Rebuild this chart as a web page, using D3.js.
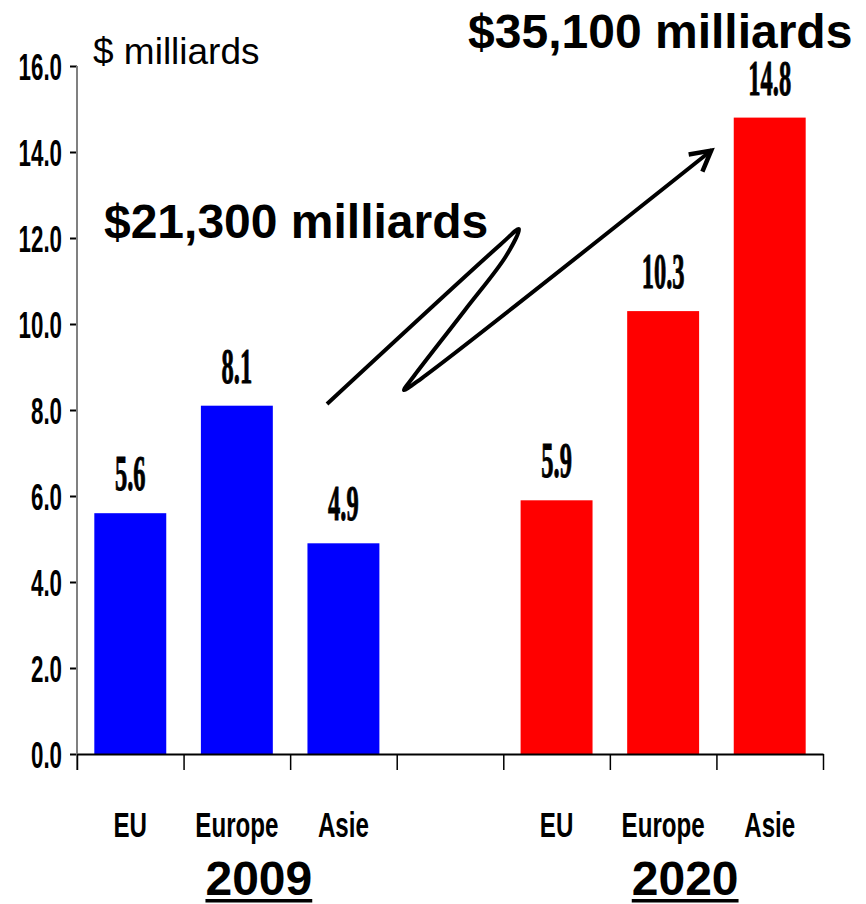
<!DOCTYPE html>
<html>
<head>
<meta charset="utf-8">
<script src="https://cdn.jsdelivr.net/npm/d3@7"></script>
<style>
  body { margin: 0; background: #fff; }
  svg { display: block; }
</style>
</head>
<body>
<div id="chart"></div>
<script>
// chart values
const regions = ['EU', 'Europe', 'Asie'];
const years = ['2009', '2020'];
const values2009 = [5.6, 8.1, 4.9];
const values2020 = [5.9, 10.3, 14.8];
const yearColors = ['#0000ff', '#ff0000'];
const yTicks = [0, 2, 4, 6, 8, 10, 12, 14, 16];
const totals = ['$21,300 milliards', '$35,100 milliards'];
const unitLabel = '$ milliards';
// zig-zag arrow, in [slot position, value] units
const arrowPoints = [
    [2.346, 8.14], [3.969, 11.837], [4.147, 12.209], [4.026, 11.581],
    [3.641, 10.326], [3.162, 8.791], [3.068, 8.465], [3.237, 8.744], [5.958, 14.047]
];

const WIDTH = 866, HEIGHT = 904;
const MARGIN = { left: 77, right: 43, top: 66, bottom: 150 };

// one slot per bar, with an empty slot between the two years
const slots = [];
years.forEach((yr, i) => {
    regions.forEach(r => slots.push(`${r} ${yr}`));
    if (i === 0) slots.push('gap');
});
const bars = [];
years.forEach((yr, i) => {
    const vals = i === 0 ? values2009 : values2020;
    regions.forEach((r, j) => bars.push({ key: `${r} ${yr}`, region: r, year: yr, value: vals[j], color: yearColors[i] }));
});

const svg = d3.select('#chart').append('svg')
    .attr('width', WIDTH)
    .attr('height', HEIGHT);

const x0 = MARGIN.left, x1 = WIDTH - MARGIN.right;
const yBottom = HEIGHT - MARGIN.bottom;

const x = d3.scaleBand()
    .domain(slots)
    .range([x0, x1])
    .paddingInner(0.325)
    .paddingOuter(0.1625);

// slot positions as numbers, for boundary ticks and annotations
const xs = d3.scaleLinear().domain([0, slots.length]).range([x0, x1]);

const y = d3.scaleLinear()
    .domain([0, 16])
    .range([yBottom, MARGIN.top]);

// bars
svg.append('g')
    .selectAll('rect')
    .data(bars)
    .join('rect')
    .attr('x', d => x(d.key))
    .attr('y', d => y(d.value))
    .attr('width', x.bandwidth())
    .attr('height', d => y(0) - y(d.value))
    .attr('fill', d => d.color);

// value labels (condensed serif)
svg.append('g')
    .selectAll('text')
    .data(bars)
    .join('text')
    .attr('transform', d => `translate(${x(d.key) + x.bandwidth() / 2},${y(d.value) - 23}) scale(0.49,1)`)
    .attr('text-anchor', 'middle')
    .style('font-family', '"Liberation Serif", "Times New Roman", serif')
    .style('font-weight', 'bold')
    .style('font-size', '50px')
    .attr('stroke', '#000')
    .attr('stroke-width', 1)
    .text(d => d.value.toFixed(1));

// y axis
const yAxis = d3.axisLeft(y).tickValues(yTicks).tickSize(7).tickSizeOuter(0).tickFormat(d3.format('.1f'));
const gy = svg.append('g')
    .attr('transform', `translate(${x0},0)`)
    .call(yAxis);
gy.select('.domain').remove();
gy.selectAll('.tick line').attr('stroke', '#000').attr('stroke-width', 2);
gy.selectAll('.tick text')
    .attr('x', null)
    .attr('dy', null)
    .attr('transform', 'translate(-15,13) scale(0.62,1)')
    .attr('text-anchor', 'end')
    .style('font-family', '"Liberation Sans", Arial, sans-serif')
    .style('font-weight', 'bold')
    .style('font-size', '36px')
    .attr('fill', '#000');
svg.append('line')
    .attr('x1', x0).attr('x2', x0)
    .attr('y1', y(16)).attr('y2', yBottom + 16)
    .attr('stroke', '#808080')
    .attr('stroke-width', 2);

// x axis with ticks at slot boundaries
const xAxis = d3.axisBottom(xs).tickValues(d3.range(slots.length + 1)).tickSize(16).tickSizeOuter(0).tickFormat('');
const gx = svg.append('g')
    .attr('transform', `translate(0,${yBottom})`)
    .call(xAxis);
gx.select('.domain').attr('stroke', '#000').attr('stroke-width', 2);
gx.selectAll('.tick line').attr('stroke', '#000').attr('stroke-width', 1.5);

// category labels
svg.append('g')
    .selectAll('text')
    .data(bars)
    .join('text')
    .attr('transform', d => `translate(${x(d.key) + x.bandwidth() / 2},837) scale(0.69,1)`)
    .attr('text-anchor', 'middle')
    .style('font-family', '"Liberation Sans", Arial, sans-serif')
    .style('font-weight', 'bold')
    .style('font-size', '35px')
    .text(d => d.region);

// year labels, underlined
years.forEach(yr => {
    const cx = x(`Europe ${yr}`) + x.bandwidth() / 2 + 22;
    const t = svg.append('text')
        .attr('x', cx)
        .attr('y', 895)
        .attr('text-anchor', 'middle')
        .style('font-family', '"Liberation Sans", Arial, sans-serif')
        .style('font-weight', 'bold')
        .style('font-size', '48px')
        .text(yr);
    const w = t.node().getComputedTextLength();
    svg.append('rect')
        .attr('x', cx - w / 2)
        .attr('y', 899)
        .attr('width', w)
        .attr('height', 3.5)
        .attr('fill', '#000');
});

// unit label
svg.append('text')
    .attr('x', xs(0.15))
    .attr('y', y(16.05))
    .style('font-family', '"Liberation Sans", Arial, sans-serif')
    .style('font-size', '37px')
    .text(unitLabel);

// totals
const totalPos = [[0.253, 12.0], [3.67, 16.42]];
svg.append('g')
    .selectAll('text')
    .data(totals)
    .join('text')
    .attr('x', (d, i) => xs(totalPos[i][0]))
    .attr('y', (d, i) => y(totalPos[i][1]))
    .style('font-family', '"Liberation Sans", Arial, sans-serif')
    .style('font-weight', 'bold')
    .style('font-size', '48px')
    .text(d => d);

// arrow
svg.append('defs').append('marker')
    .attr('id', 'head')
    .attr('viewBox', '-26 -15 30 30')
    .attr('markerUnits', 'userSpaceOnUse')
    .attr('markerWidth', 30)
    .attr('markerHeight', 30)
    .attr('refX', 0)
    .attr('refY', 0)
    .attr('orient', 'auto')
    .append('path')
    .attr('d', 'M-21,-11L-1,0L-21,11')
    .attr('fill', 'none')
    .attr('stroke', '#000')
    .attr('stroke-width', 4.5);

const arrowLine = d3.line()
    .x(d => xs(d[0]))
    .y(d => y(d[1]))
    .curve(d3.curveCatmullRom.alpha(0.5));

svg.append('path')
    .attr('d', arrowLine(arrowPoints))
    .attr('fill', 'none')
    .attr('stroke', '#000')
    .attr('stroke-width', 4)
    .attr('marker-end', 'url(#head)');
</script>
</body>
</html>
